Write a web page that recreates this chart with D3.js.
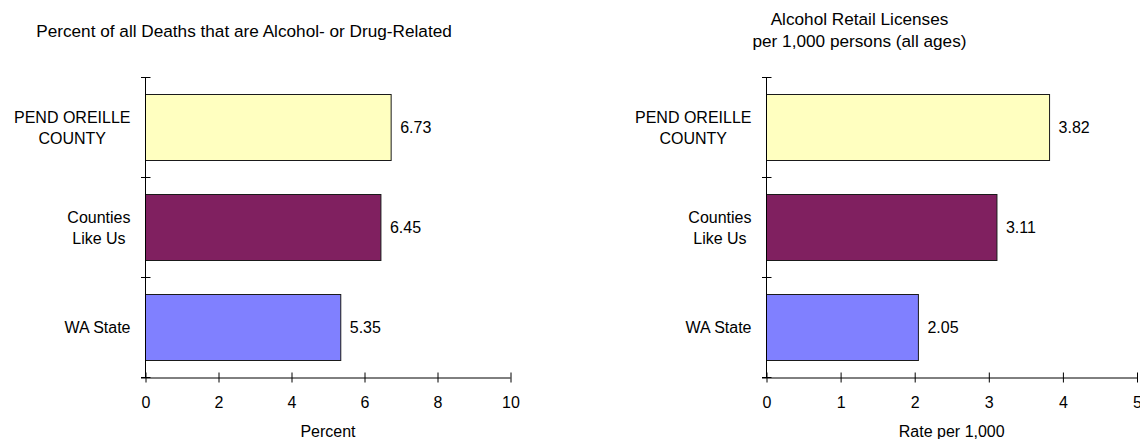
<!DOCTYPE html>
<html>
<head>
<meta charset="utf-8">
<script src="https://cdn.jsdelivr.net/npm/d3@7"></script>
<style>
  html, body { margin: 0; padding: 0; background: #fff; }
  svg { display: block; }
  text { font-family: "Liberation Sans", Arial, Helvetica, sans-serif; fill: #000; }
</style>
</head>
<body>
<svg id="chart" width="1140" height="439"></svg>
<script>
// ---- data ----
const categories = ["PEND OREILLE\nCOUNTY", "Counties\nLike Us", "WA State"];
const barColors = ["#FFFFC0", "#802060", "#8080FF"];
const deathPercent = [6.73, 6.45, 5.35];
const licenseRate = [3.82, 3.11, 2.05];
const percentTicks = [0, 2, 4, 6, 8, 10];
const rateTicks = [0, 1, 2, 3, 4, 5];

const svg = d3.select("#chart");
const FONT = 16;
const TITLE_FONT = 17.2;

function panel(opts) {
  const g = svg.append("g");
  const x = d3.scaleLinear().domain(opts.domain).range(opts.xRange);
  const y = d3.scaleBand().domain(categories).range([77.5, 377.5])
    .paddingInner(0.34).paddingOuter(0.17);
  const x0 = x(0);
  const yBottom = y.range()[1];

  // bars
  g.selectAll("rect.bar").data(categories).join("rect")
    .attr("class", "bar")
    .attr("x", x0)
    .attr("y", d => y(d))
    .attr("width", (d, i) => x(opts.values[i]) - x0)
    .attr("height", y.bandwidth())
    .attr("fill", (d, i) => barColors[i])
    .attr("stroke", "#1a1a1a")
    .attr("stroke-width", 1);

  // value labels
  g.selectAll("text.val").data(categories).join("text")
    .attr("class", "val")
    .attr("x", (d, i) => x(opts.values[i]) + 9)
    .attr("y", d => y(d) + y.bandwidth() / 2 + 5.7)
    .attr("font-size", FONT)
    .text((d, i) => opts.values[i].toFixed(2));

  // x axis
  const xAxis = d3.axisBottom(x).tickValues(opts.ticks).tickFormat(d3.format("d"))
    .tickSizeOuter(0).tickSizeInner(5).tickPadding(0);
  const xg = g.append("g").attr("transform", `translate(0,${yBottom})`).call(xAxis);
  xg.select(".domain").attr("stroke", "#000").attr("d", `M${x0 - 4.5},0.5H${x.range()[1]}`);
  xg.selectAll(".tick line").attr("y1", -5).attr("y2", 5).attr("stroke", "#000");
  xg.selectAll(".tick text")
    .attr("y", 30.5).attr("dy", null)
    .attr("font-size", FONT)
    .attr("font-family", "Liberation Sans, Arial, sans-serif")
    .attr("fill", "#000");

  // y axis line + boundary ticks
  const step = y.step();
  const bounds = d3.range(categories.length + 1).map(i => y.range()[0] + i * step);
  g.append("line")
    .attr("x1", x0).attr("x2", x0)
    .attr("y1", y.range()[0]).attr("y2", yBottom)
    .attr("stroke", "#000");
  g.selectAll("line.ytick").data(bounds).join("line")
    .attr("class", "ytick")
    .attr("x1", x0 - 4.5).attr("x2", x0 + 5)
    .attr("y1", d => d).attr("y2", d => d)
    .attr("stroke", "#000");

  // category labels
  categories.forEach((c, i) => {
    const lines = c.split("\n");
    const t = g.append("text").attr("font-size", FONT).attr("text-anchor", "middle");
    const lh = 21;
    const cy = y(c) + y.bandwidth() / 2;
    const firstBase = cy + 5.7 - (lines.length - 1) * lh / 2;
    const spans = lines.map((ln, k) =>
      t.append("tspan").attr("y", firstBase + k * lh).text(ln));
    const maxW = d3.max(spans, s => s.node().getComputedTextLength());
    const cx = x0 - 15 - maxW / 2;
    spans.forEach(s => s.attr("x", cx));
  });

  // axis title
  g.append("text")
    .attr("x", (x.range()[0] + x.range()[1]) / 2)
    .attr("y", 437)
    .attr("text-anchor", "middle")
    .attr("font-size", FONT)
    .text(opts.axisTitle);

  // chart title
  const tt = g.append("text").attr("text-anchor", "middle").attr("font-size", TITLE_FONT);
  opts.title.forEach((ln, k) => {
    tt.append("tspan").attr("x", opts.titleX).attr("y", opts.titleY + k * 22.5).text(ln);
  });
}

panel({
  domain: [0, 10], xRange: [145.5, 510.5], values: deathPercent, ticks: percentTicks,
  axisTitle: "Percent",
  title: ["Percent of all Deaths that are Alcohol- or Drug-Related"],
  titleX: 244, titleY: 37
});

panel({
  domain: [0, 5], xRange: [766.5, 1137], values: licenseRate, ticks: rateTicks,
  axisTitle: "Rate per 1,000",
  title: ["Alcohol Retail Licenses", "per 1,000 persons (all ages)"],
  titleX: 859.5, titleY: 24.5
});
</script>
</body>
</html>
